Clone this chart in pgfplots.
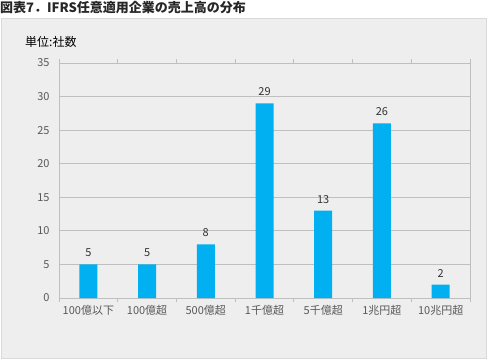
\documentclass[border=0pt]{standalone}
\usepackage{pgfplots}
\pgfplotsset{compat=1.18}
\usepackage{fontspec}
\setmainfont{Noto Sans CJK JP}
\definecolor{barc}{HTML}{00B0F0}
\definecolor{bg}{HTML}{EEEEEE}
\definecolor{frame}{HTML}{D9D9D9}
\definecolor{gridc}{HTML}{BFBFBF}
\definecolor{txt}{HTML}{595959}
\begin{document}
\begin{tikzpicture}[x=1pt,y=1pt]
\useasboundingbox (0,0) rectangle (489,361);
\fill[white] (0,0) rectangle (489,361);
\filldraw[fill=bg,draw=frame,line width=0.8pt] (1,3) rectangle (486,343);
\node[anchor=north west,inner sep=0pt,font=\fontsize{13}{15}\selectfont\bfseries,text=black!85] at (0,360) {図表7．IFRS任意適用企業の売上高の分布};
\node[anchor=west,inner sep=0pt,font=\fontsize{12}{14}\selectfont,text=black] at (25,319) {単位:社数};
\begin{axis}[
  at={(59pt,63pt)}, anchor=south west,
  scale only axis, width=411pt, height=235pt,
  xmin=-0.5, xmax=6.5, ymin=0, ymax=35,
  ytick={0,5,...,35},
  xtick={0,...,6},
  xticklabels={100億以下,100億超,500億超,1千億超,5千億超,1兆円超,10兆円超},
  minor xtick={-0.5,0.5,...,6.5},
  major tick length=0pt,
  minor tick length=4pt,
  tick align=outside,
  minor x tick style={draw=gridc, line width=0.8pt},
  axis line style={draw=gridc, line width=0.8pt},
  ymajorgrids, major grid style={draw=gridc, line width=0.8pt},
  ticklabel style={font=\fontsize{11}{13}\selectfont, text=txt},
  /pgf/number format/assume math mode=true,
  yticklabel style={xshift=-6pt},
  xticklabel style={yshift=-4pt},
  ybar, bar width=18pt,
  nodes near coords,
  nodes near coords style={font=\fontsize{11}{13}\selectfont, text=black!80, yshift=4pt},
  clip=false,
]
\addplot[fill=barc, draw=none] coordinates {(0,5) (1,5) (2,8) (3,29) (4,13) (5,26) (6,2)};
\end{axis}
\end{tikzpicture}
\end{document}
